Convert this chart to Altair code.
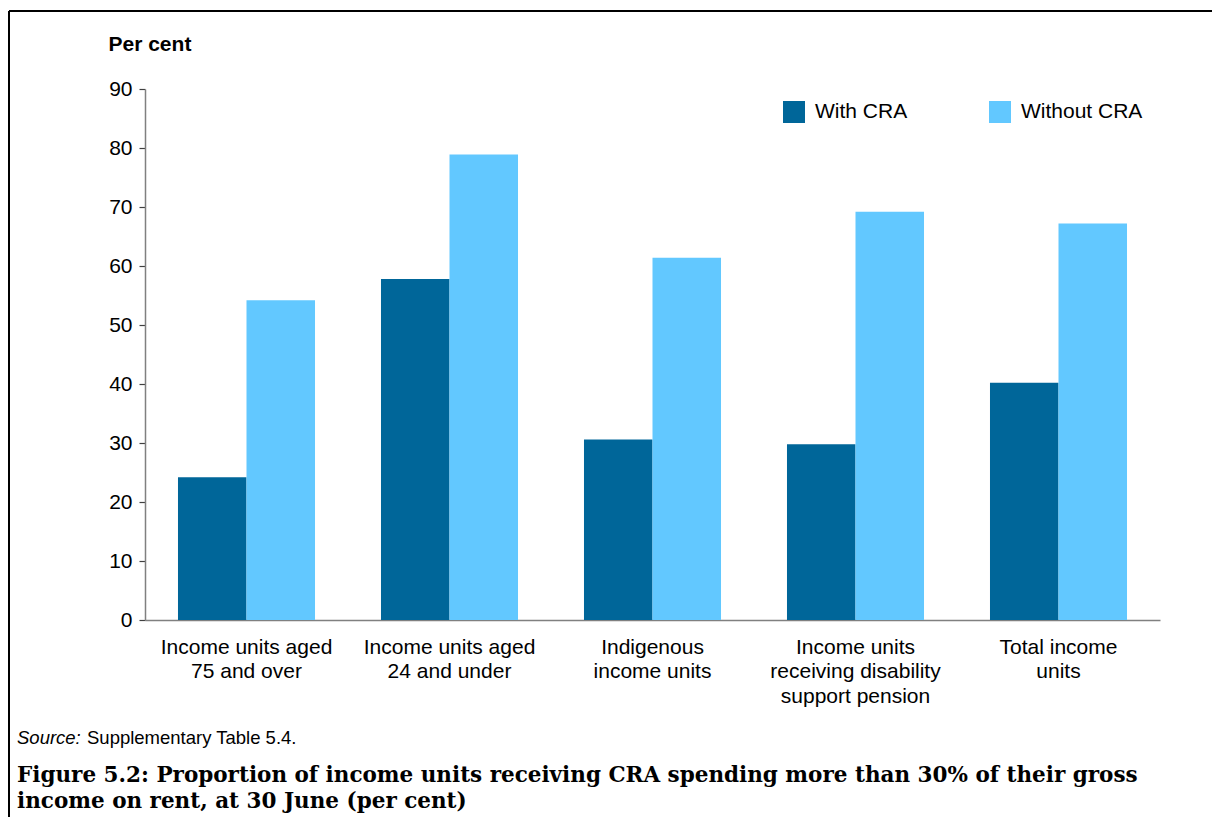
import altair as alt
import pandas as pd

categories = [
    "Income units aged\n75 and over",
    "Income units aged\n24 and under",
    "Indigenous\nincome units",
    "Income units\nreceiving disability\nsupport pension",
    "Total income\nunits",
]
series = ["With CRA", "Without CRA"]
with_cra = [24.2, 57.8, 30.6, 29.8, 40.2]
without_cra = [54.2, 78.9, 61.4, 69.2, 67.2]
colors = ["#006699", "#62C8FF"]
y_ticks = [0, 10, 20, 30, 40, 50, 60, 70, 80, 90]

source_label = "Source:"
source_text = "Supplementary Table 5.4."
fig_title = [
    "Figure 5.2: Proportion of income units receiving CRA spending more than 30% of their gross",
    "income on rent, at 30 June (per cent)",
]

rows = []
for c, a, b in zip(categories, with_cra, without_cra):
    rows.append({"category": c, "series": series[0], "value": a})
    rows.append({"category": c, "series": series[1], "value": b})
df = pd.DataFrame(rows)

SANS = "Liberation Sans"

bars = alt.Chart(df).mark_bar().encode(
    x=alt.X(
        "category:N",
        sort=categories,
        scale=alt.Scale(paddingInner=0.325, paddingOuter=0.1625),
        axis=alt.Axis(
            title=None,
            labelExpr="split(datum.label, '\\n')",
            labelAngle=0,
            labelFont=SANS,
            labelFontSize=21,
            labelColor="black",
            labelLineHeight=24.5,
            labelPadding=16,
            ticks=False,
            tickSize=0,
            domainColor="#808080",
            domainWidth=1.5,
        ),
    ),
    xOffset=alt.XOffset("series:N", sort=series),
    y=alt.Y(
        "value:Q",
        scale=alt.Scale(domain=[0, 90], nice=False),
        axis=alt.Axis(
            values=y_ticks,
            grid=False,
            title="Per cent",
            titleAngle=0,
            titleAlign="left",
            titleBaseline="alphabetic",
            titleX=-37,
            titleY=-39,
            titleFont=SANS,
            titleFontSize=21,
            titleFontWeight="bold",
            titleColor="black",
            labelFont=SANS,
            labelFontSize=21,
            labelColor="black",
            labelPadding=7,
            tickSize=6,
            tickColor="#404040",
            tickWidth=1.2,
            domainColor="#808080",
            domainWidth=1.5,
        ),
    ),
    color=alt.Color(
        "series:N",
        scale=alt.Scale(domain=series, range=colors),
        legend=alt.Legend(
            title=None,
            orient="none",
            legendX=638,
            legendY=12,
            direction="horizontal",
            symbolType="square",
            symbolSize=484,
            symbolStrokeWidth=0,
            symbolOpacity=1,
            labelFont=SANS,
            labelFontSize=21,
            labelColor="black",
            labelOffset=10,
            columnPadding=81,
            padding=0,
        ),
    ),
)

dummy = alt.Chart(alt.Data(values=[{"a": 1}]))

frame_top = dummy.mark_rule(color="black", strokeWidth=2).encode(
    x=alt.value(-136), x2=alt.value(1067), y=alt.value(-78)
)
frame_left = dummy.mark_rule(color="black", strokeWidth=2).encode(
    x=alt.value(-136), y=alt.value(-78), y2=alt.value(728)
)

src1 = dummy.mark_text(
    align="left", baseline="alphabetic", font=SANS, fontSize=18.5,
    fontStyle="italic", color="black"
).encode(x=alt.value(-128), y=alt.value(655), text=alt.value(source_label))
src2 = dummy.mark_text(
    align="left", baseline="alphabetic", font=SANS, fontSize=18.5, color="black"
).encode(x=alt.value(-58), y=alt.value(655), text=alt.value(source_text))

t1 = dummy.mark_text(
    align="left", baseline="alphabetic", font="DejaVu Serif", fontSize=21.5,
    fontWeight="bold", color="black"
).encode(x=alt.value(-128), y=alt.value(693), text=alt.value(fig_title[0]))
t2 = dummy.mark_text(
    align="left", baseline="alphabetic", font="DejaVu Serif", fontSize=21.5,
    fontWeight="bold", color="black"
).encode(x=alt.value(-128), y=alt.value(719), text=alt.value(fig_title[1]))

chart = alt.layer(bars, frame_top, frame_left, src1, src2, t1, t2).properties(
    width=1015,
    height=531,
    autosize=alt.AutoSizeParams(type="none"),
    padding={"left": 137, "top": 81, "right": 52, "bottom": 197},
    background="white",
).configure_view(stroke=None)

chart.save("out.html", embed_options={"renderer": "svg", "actions": False})
